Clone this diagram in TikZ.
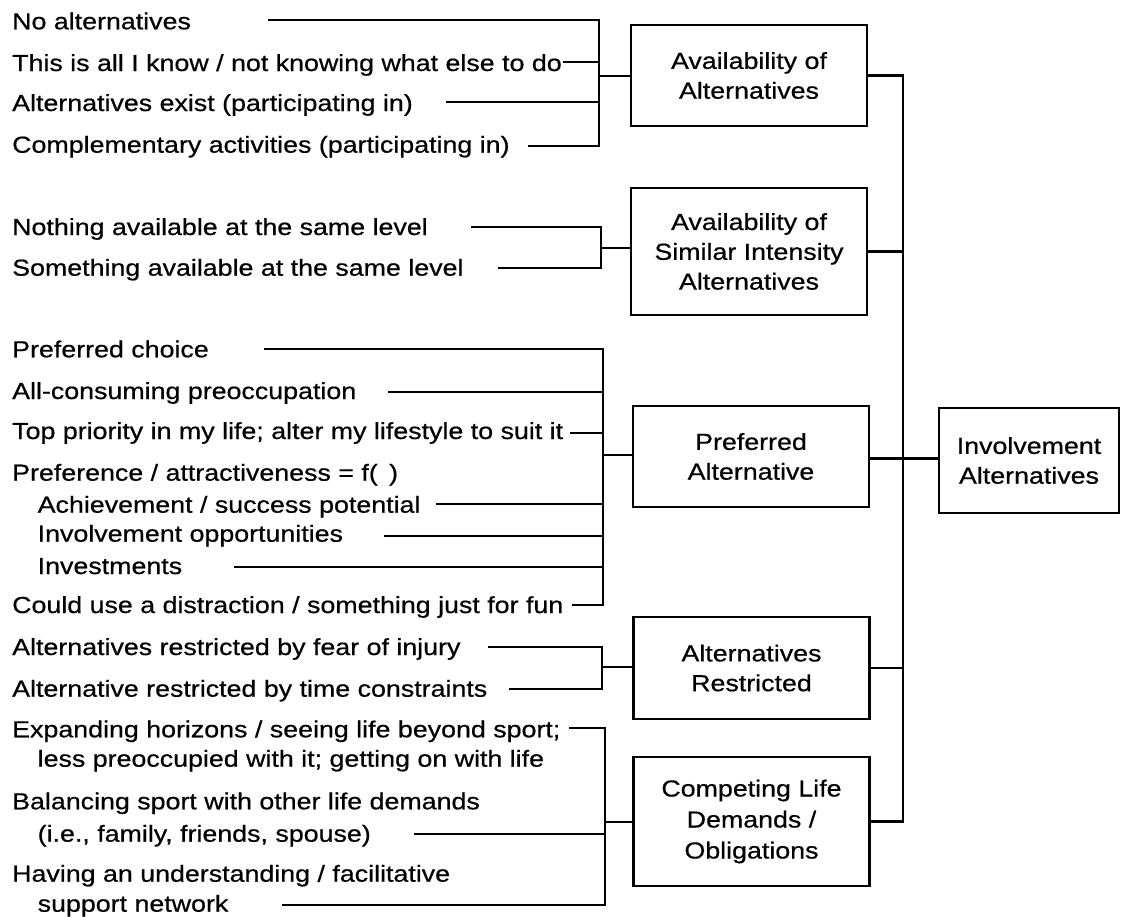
\documentclass[tikz,border=0pt]{standalone}
\usepackage{fontspec}
\setmainfont{Liberation Sans}[FakeStretch=1.155,FakeBold=0.6]
\begin{document}
\begin{tikzpicture}[x=1pt,y=-1pt,
  every node/.style={font=\fontsize{23.2}{29.8}\selectfont},
  item/.style={anchor=base west, inner sep=0pt},
  box/.style={draw, line width=2.3pt, align=center, minimum width=236pt, inner sep=0pt},
  conn/.style={line width=2.1pt, line join=miter}]
\useasboundingbox (0,0) rectangle (1121,916);

% category boxes
\node[box, minimum height=101pt] (b1) at (749,75.5) {Availability of\\Alternatives};
\node[box, minimum height=127pt] (b2) at (749,251.5) {Availability of\\Similar Intensity\\Alternatives};
\node[box, minimum height=101pt] (b3) at (751,456.5) {Preferred\\Alternative};
\node[box, minimum height=102pt] (b4) at (751.5,668) {Alternatives\\Restricted};
\node[box, minimum height=129pt, font=\fontsize{23.2}{31}\selectfont] (b5) at (751.5,821.5) {Competing Life\\Demands /\\Obligations};
\node[box, minimum width=180pt, minimum height=105pt] (b0) at (1029,460.5) {Involvement\\Alternatives};

% spine joining the categories to the main box
\coordinate (m) at (903,0);
\draw[conn] (b1.east) -- (b1.east -| m) -- (b5.east -| m) -- (b5.east);
\draw[conn] (b2.east) -- (b2.east -| m);
\draw[conn] (b4.east) -- (b4.east -| m);
\draw[conn] ([yshift=-2pt]b3.east) -- ([yshift=-2pt]b3.east -| b0.west);

% group 1
\node[item] (a1) at (12,29.3) {No alternatives};
\node[item] (a2) at (12,71) {This is all I know / not knowing what else to do};
\node[item] (a3) at (12,111) {Alternatives exist (participating in)};
\node[item] (a4) at (12,152.7) {Complementary activities (participating in)};
\coordinate (a1s) at (268,20);
\coordinate (a2s) at (563,62);
\coordinate (a3s) at (446,102);
\coordinate (a4s) at (528,146);
\coordinate (j1) at (599,76);
\draw[conn] (a1s) -- (a1s -| j1) -- (a4s -| j1) -- (a4s);
\draw[conn] (a2s) -- (a2s -| j1);
\draw[conn] (a3s) -- (a3s -| j1);
\draw[conn] (j1) -- (j1 -| b1.west);

% group 2
\node[item] (c1) at (12,235) {Nothing available at the same level};
\node[item] (c2) at (12,275.7) {Something available at the same level};
\coordinate (c1s) at (471,227);
\coordinate (c2s) at (498,268);
\coordinate (j2) at (601,248);
\draw[conn] (c1s) -- (c1s -| j2) -- (c2s -| j2) -- (c2s);
\draw[conn] (j2) -- (j2 -| b2.west);

% group 3
\node[item] (p1) at (12,357.3) {Preferred choice};
\node[item] (p2) at (12,399) {All-consuming preoccupation};
\node[item] (p3) at (12,439) {Top priority in my life; alter my lifestyle to suit it};
\node[item] (p4) at (12,480.7) {Preference / attractiveness = f( \,)};
\node[item] (p5) at (37.5,512.7) {Achievement / success potential};
\node[item] (p6) at (37.5,541.7) {Involvement opportunities};
\node[item] (p7) at (37.5,574) {Investments};
\node[item] (p8) at (12,613) {Could use a distraction / something just for fun};
\coordinate (p1s) at (264,349);
\coordinate (p2s) at (387.5,392);
\coordinate (p3s) at (570,433);
\coordinate (p5s) at (436,504);
\coordinate (p6s) at (384,536);
\coordinate (p7s) at (234,567);
\coordinate (p8s) at (572,605);
\coordinate (j3) at (603,455);
\draw[conn] (p1s) -- (p1s -| j3) -- (p8s -| j3) -- (p8s);
\draw[conn] (p2s) -- (p2s -| j3);
\draw[conn] (p3s) -- (p3s -| j3);
\draw[conn] (p5s) -- (p5s -| j3);
\draw[conn] (p6s) -- (p6s -| j3);
\draw[conn] (p7s) -- (p7s -| j3);
\draw[conn] (j3) -- (j3 -| b3.west);

% group 4
\node[item] (r1) at (12,655) {Alternatives restricted by fear of injury};
\node[item] (r2) at (12,696.7) {Alternative restricted by time constraints};
\coordinate (r1s) at (487.5,647);
\coordinate (r2s) at (509,689);
\coordinate (j4) at (602,667);
\draw[conn] (r1s) -- (r1s -| j4) -- (r2s -| j4) -- (r2s);
\draw[conn] (j4) -- (j4 -| b4.west);

% group 5
\node[item] (d1) at (12,737.3) {Expanding horizons / seeing life beyond sport;};
\node[item] (d1b) at (37.5,766.7) {less preoccupied with it; getting on with life};
\node[item] (d2) at (12,809.3) {Balancing sport with other life demands};
\node[item] (d2b) at (37.5,841.7) {(i.e., family, friends, spouse)};
\node[item] (d3) at (12,881.7) {Having an understanding / facilitative};
\node[item] (d3b) at (37.5,911.7) {support network};
\coordinate (d1s) at (569,728);
\coordinate (d2s) at (414,834);
\coordinate (d3s) at (282,905);
\coordinate (j5) at (605,822);
\draw[conn] (d1s) -- (d1s -| j5) -- (d3s -| j5) -- (d3s);
\draw[conn] (d2s) -- (d2s -| j5);
\draw[conn] (j5) -- (j5 -| b5.west);
\end{tikzpicture}
\end{document}
